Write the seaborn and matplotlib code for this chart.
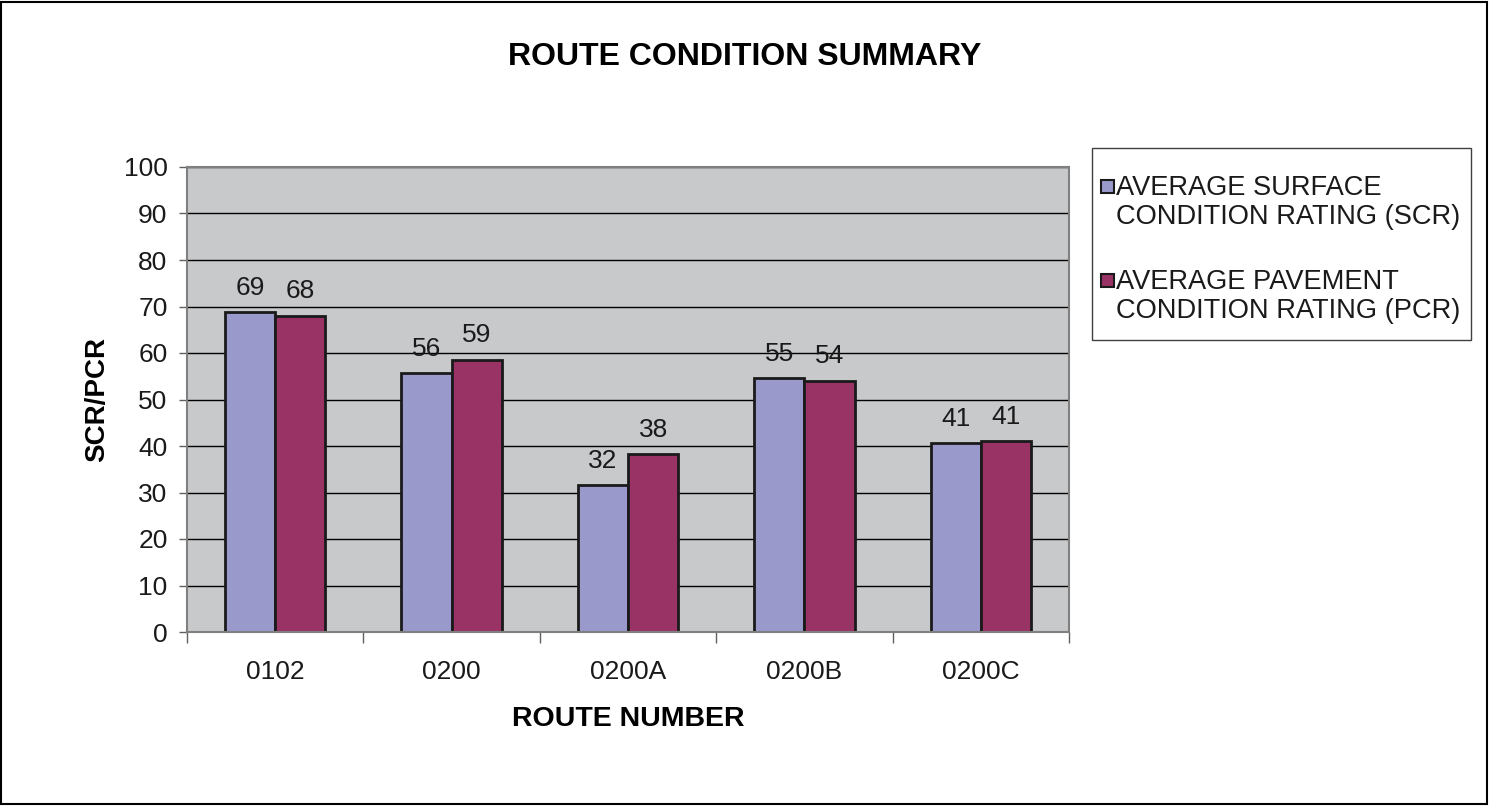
import matplotlib
matplotlib.use("Agg")
import matplotlib.pyplot as plt
import matplotlib.patches as mpatches
import seaborn as sns
import pandas as pd
import numpy as np

routes = ["0102", "0200", "0200A", "0200B", "0200C"]
scr_values = [68.8, 55.6, 31.6, 54.6, 40.6]
pcr_values = [68.0, 58.6, 38.2, 54.0, 41.0]
series_names = ["AVERAGE SURFACE\nCONDITION RATING (SCR)",
                "AVERAGE PAVEMENT\nCONDITION RATING (PCR)"]
series_colors = ["#9999CC", "#993366"]
y_ticks = [0, 10, 20, 30, 40, 50, 60, 70, 80, 90, 100]

df = pd.DataFrame({
    "route": routes * 2,
    "value": scr_values + pcr_values,
    "series": [series_names[0]] * len(routes) + [series_names[1]] * len(routes),
})

sns.set_theme(style="white")
plt.rcParams['font.family'] = ['Liberation Sans', 'DejaVu Sans']

W, H = 1489, 806
fig = plt.figure(figsize=(W / 100, H / 100), dpi=100)
ax = fig.add_axes([187/W, 1-632/H, (1069-187)/W, (632-167)/H])

sns.barplot(data=df, x="route", y="value", hue="series", hue_order=series_names,
            order=routes, palette=series_colors, width=0.57,
            edgecolor="#1a1a1a", linewidth=2, saturation=1, ax=ax, legend=False)

ax.set_facecolor("#C8C9CB")
ax.set_ylim(0, 100)
ax.set_xlim(-0.5, len(routes) - 0.5)
ax.set_yticks(y_ticks)
ax.set_axisbelow(True)
ax.yaxis.grid(True, color="black", linewidth=1)
ax.xaxis.grid(False)

for s in ax.spines.values():
    s.set_color("#808080")
    s.set_linewidth(1.5)

ax.tick_params(axis="y", which="major", left=True, length=6, width=1, color="#606060",
               labelsize=19, pad=8, labelcolor="#1a1a1a")
ax.tick_params(axis="x", which="major", bottom=False, length=0, labelsize=19, pad=20,
               labelcolor="#1a1a1a")
ax.set_xticks(np.arange(-0.5, len(routes), 1.0), minor=True)
ax.tick_params(axis="x", which="minor", bottom=True, length=8, width=1, color="#606060")

for cont, vals in zip(ax.containers, [scr_values, pcr_values]):
    ax.bar_label(cont, labels=[f"{round(v)}" for v in vals], padding=9,
                 fontsize=19, color="#1a1a1a")

ax.set_xlabel("ROUTE NUMBER", fontsize=20.5, fontweight="bold", labelpad=16, color="black")
ax.set_ylabel("SCR/PCR", fontsize=20, fontweight="bold", labelpad=10, color="black")

fig.text(745/W, 1-57/H, "ROUTE CONDITION SUMMARY", ha="center", va="center",
         fontsize=23, fontweight="bold", color="black")

# legend box (drawn manually to mimic the Excel layout)
fig.patches.append(mpatches.Rectangle((1092/W, 1-340/H), (1471-1092)/W, (340-148)/H,
                                      transform=fig.transFigure, fill=True,
                                      facecolor="white", edgecolor="#404040",
                                      linewidth=1))
for i, (name, col) in enumerate(zip(series_names, series_colors)):
    cy = 186 + i * 94
    fig.patches.append(mpatches.Rectangle((1101/W, 1-(cy+6.5)/H), 13/W, 13/H,
                                          transform=fig.transFigure,
                                          facecolor=col, edgecolor="#1a1a1a",
                                          linewidth=1.5))
    fig.text(1116/W, 1-(cy-11)/H, name, ha="left", va="top", fontsize=19.6,
             color="#1a1a1a", linespacing=1.17)

fig.patches.append(mpatches.Rectangle((1/W, 2/H), 1486/W, 802/H,
                                      transform=fig.transFigure, fill=False,
                                      edgecolor="black", linewidth=1.5))

fig.savefig("out.png", dpi=100)
